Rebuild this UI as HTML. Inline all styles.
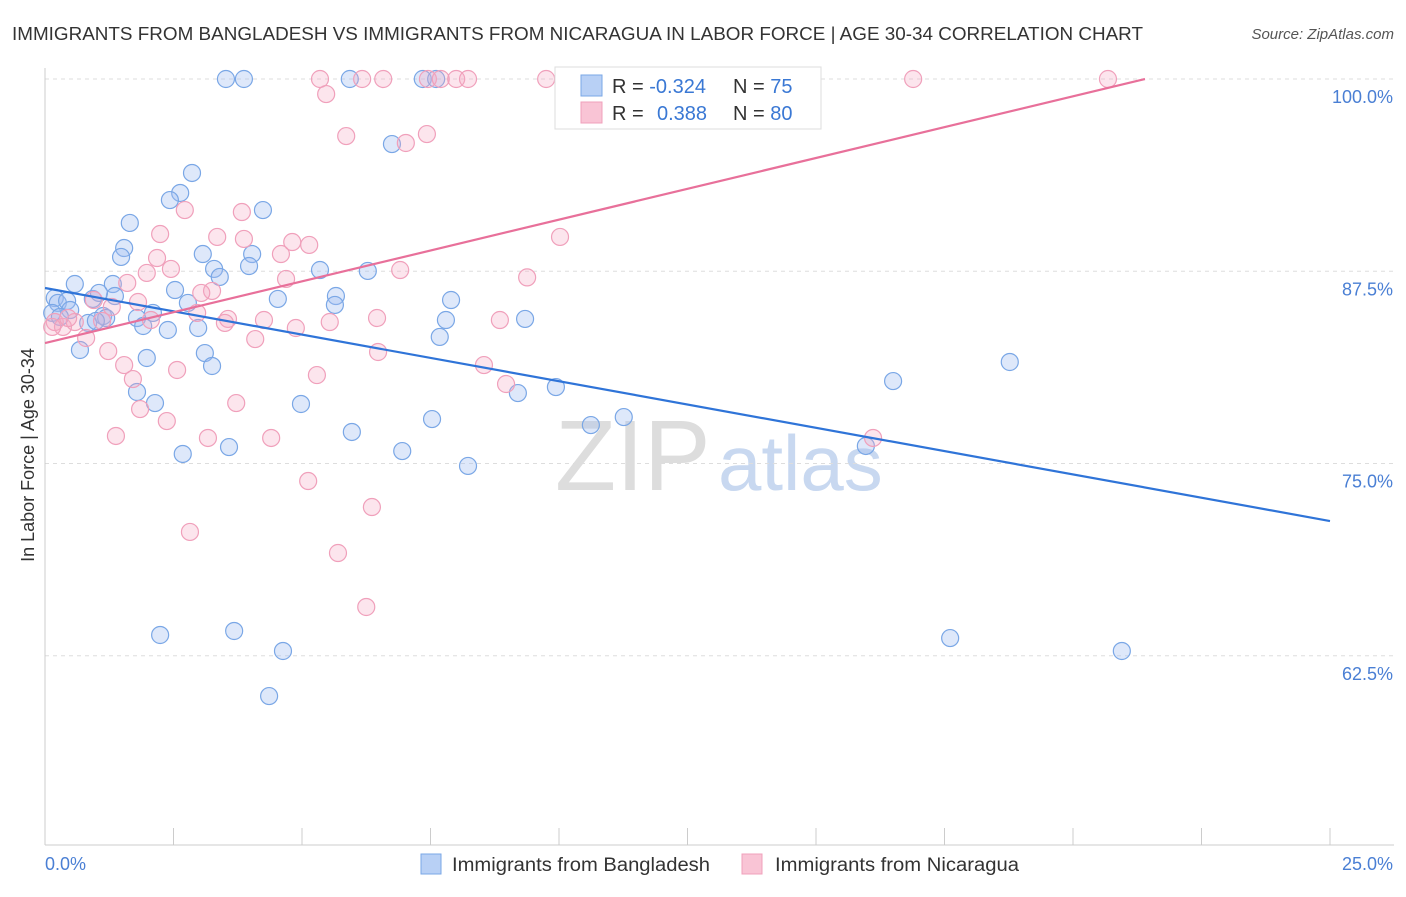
<!DOCTYPE html>
<html><head><meta charset="utf-8"><style>
body{margin:0;background:#fff;font-family:"Liberation Sans",sans-serif;}
svg text{font-family:"Liberation Sans",sans-serif;}
</style></head><body>
<svg id="chart" width="1406" height="892" xmlns="http://www.w3.org/2000/svg">
<text x="12" y="40" font-size="18.5" fill="#333" textLength="1131" lengthAdjust="spacingAndGlyphs">IMMIGRANTS FROM BANGLADESH VS IMMIGRANTS FROM NICARAGUA IN LABOR FORCE | AGE 30-34 CORRELATION CHART</text>
<text x="1394" y="39" font-size="15" fill="#555" font-style="italic" text-anchor="end">Source: ZipAtlas.com</text>
<text x="555" y="490" font-size="100" fill="#ddd" font-family="Liberation Serif">ZIP</text>
<text x="718" y="490" font-size="78" fill="#c8d8f0">atlas</text>
<text transform="translate(34,455) rotate(-90)" font-size="18" fill="#333" text-anchor="middle">In Labor Force | Age 30-34</text>
<g id="grid"></g><g id="marks"></g>
<g>
<rect x="555" y="67" width="266" height="62" fill="#fff" stroke="#ddd"/>
<rect x="581" y="75" width="21" height="21" fill="#b8d0f5" stroke="#7aa7e6"/>
<rect x="581" y="102" width="21" height="21" fill="#f9c4d5" stroke="#f0a0bb"/>
<text x="612" y="93" font-size="20" fill="#333">R = <tspan fill="#3a78d4">-0.324</tspan></text>
<text x="733" y="93" font-size="20" fill="#333">N = <tspan fill="#3a78d4">75</tspan></text>
<text x="612" y="120" font-size="20" fill="#333">R = <tspan fill="#3a78d4" x="657">0.388</tspan></text>
<text x="733" y="120" font-size="20" fill="#333">N = <tspan fill="#3a78d4">80</tspan></text>
</g>
<g>
<rect x="421" y="854" width="20" height="20" fill="#b8d0f5" stroke="#7aa7e6"/>
<text x="452" y="871" font-size="19" fill="#333" textLength="258" lengthAdjust="spacingAndGlyphs">Immigrants from Bangladesh</text>
<rect x="742" y="854" width="20" height="20" fill="#f9c4d5" stroke="#f0a0bb"/>
<text x="775" y="871" font-size="19" fill="#333" textLength="244" lengthAdjust="spacingAndGlyphs">Immigrants from Nicaragua</text>
</g>
</svg>
<script>
const yTicks=[100,87.5,75,62.5];
const yTickLabels=["100.0%","87.5%","75.0%","62.5%"];
const xTickLabels=["0.0%","25.0%"];
const blueX=[3.52,3.87,5.93,7.35,7.61,6.75,2.86,2.63,2.43,4.24,1.65,1.54,1.48,3.07,4.03,3.29,3.40,3.97,5.35,6.28,0.58,1.32,0.19,0.25,0.43,0.93,1.36,1.05,2.53,2.78,4.53,5.66,5.64,7.90,0.49,0.14,0.29,0.84,1.13,1.79,2.10,1.91,2.39,2.98,7.80,9.34,7.68,0.68,1.98,3.11,3.25,1.79,2.14,4.98,9.94,9.20,16.50,18.77,7.53,5.97,3.58,2.68,6.95,10.62,11.26,8.23,15.97,2.24,3.68,4.63,4.36,17.61,20.95,1.19,0.99];
const blueY=[100,100,100,100,100,95.77,93.89,92.59,92.13,91.48,90.64,89.01,88.43,88.62,88.62,87.65,87.13,87.84,87.58,87.52,86.67,86.67,85.76,85.44,85.57,85.70,85.89,86.09,86.28,85.44,85.70,85.89,85.31,85.63,84.98,84.79,84.53,84.14,84.59,84.46,84.79,83.94,83.68,83.81,84.33,84.40,83.23,82.38,81.86,82.18,81.34,79.65,78.93,78.87,79.97,79.58,80.36,81.60,77.89,77.05,76.07,75.62,75.81,77.50,78.02,74.84,76.14,63.85,64.11,62.81,59.88,63.65,62.81,84.46,84.27];
const pinkX=[5.35,6.17,6.58,7.45,7.70,8.00,8.23,9.75,16.89,20.68,5.47,5.86,7.02,7.43,10.37,2.72,3.83,2.24,3.35,3.87,10.02,4.81,5.14,2.18,4.59,9.38,2.45,1.98,6.91,4.69,1.60,3.25,3.04,0.95,1.81,1.30,2.96,3.56,4.26,5.54,6.46,8.85,4.88,0.19,0.35,0.14,0.58,1.11,0.80,2.06,4.09,3.50,1.23,1.54,6.48,1.71,2.57,5.29,8.54,8.97,1.85,3.72,2.37,1.38,3.17,4.40,16.11,5.12,6.36,2.82,5.70,6.25,0.45];
const pinkY=[100,100,100,100,100,100,100,100,100,100,99.02,96.29,95.84,96.42,98.50,91.48,91.35,89.92,89.73,89.60,89.73,89.40,89.21,88.36,88.62,87.10,87.65,87.39,87.58,87.00,86.74,86.22,86.09,85.63,85.50,85.18,84.79,84.40,84.33,84.20,84.46,84.33,83.81,84.20,83.88,83.88,84.20,84.27,83.16,84.33,83.09,84.14,82.31,81.40,82.25,80.49,81.08,80.75,81.40,80.17,78.54,78.93,77.76,76.79,76.66,76.66,76.66,73.86,72.17,70.55,69.18,65.67,84.46];
const blueTrendX=[0,25], blueTrendY=[86.41,71.26];
const pinkTrendX=[0,21.4], pinkTrendY=[82.83,100];
const sx=v=>45+v*51.4, sy=v=>79+(100-v)*15.38;
const NS="http://www.w3.org/2000/svg";
const grid=document.getElementById('grid'), marks=document.getElementById('marks');
function mk(tag,attrs,parent){const e=document.createElementNS(NS,tag);for(const k in attrs)e.setAttribute(k,attrs[k]);parent.appendChild(e);return e;}
yTicks.forEach((t,i)=>{
 const l=mk('line',{x1:45,x2:1394,y1:sy(t),y2:sy(t),stroke:'#ddd','stroke-dasharray':'4,4'},grid);
 
 
 const tx=mk('text',{x:1393,y:sy(t)+24,'font-size':18,fill:'#4a7fd4','text-anchor':'end'},grid);tx.textContent=yTickLabels[i];
 
 
});
const ax=mk('line',{x1:45,x2:45,y1:68,y2:845,stroke:'#ccc'},grid);


const bx=mk('line',{x1:45,x2:1394,y1:845,y2:845,stroke:'#ccc'},grid);


for(let i=0;i<=10;i++){const t=mk('line',{x1:sx(i*2.5),x2:sx(i*2.5),y1:828,y2:845,stroke:'#ccc'},grid);
 
 }
[[0,'start'],[25,'end']].forEach((p,i)=>{const t=mk('text',{x:sx(p[0])+(i?63:0),y:870,'font-size':18,fill:'#4a7fd4','text-anchor':p[1]},grid);t.textContent=xTickLabels[i];
 
 });
function pts(X,Y,fill,stroke,name){X.forEach((x,i)=>{const c=mk('circle',{cx:sx(x),cy:sy(Y[i]),r:8.5,fill:fill,stroke:stroke,'stroke-width':1.2},marks);
 
 });}
pts(blueX,blueY,'rgba(160,190,240,0.35)','#7aa7e6','bangladesh-point');
pts(pinkX,pinkY,'rgba(245,170,195,0.3)','#f0a0bb','nicaragua-point');
const bl=mk('line',{x1:sx(blueTrendX[0]),y1:sy(blueTrendY[0]),x2:sx(blueTrendX[1]),y2:sy(blueTrendY[1]),stroke:'#2f74d8','stroke-width':2.2},marks);


const pl=mk('line',{x1:sx(pinkTrendX[0]),y1:sy(pinkTrendY[0]),x2:sx(pinkTrendX[1]),y2:sy(pinkTrendY[1]),stroke:'#e8709a','stroke-width':2.2},marks);


</script>
</body></html>
